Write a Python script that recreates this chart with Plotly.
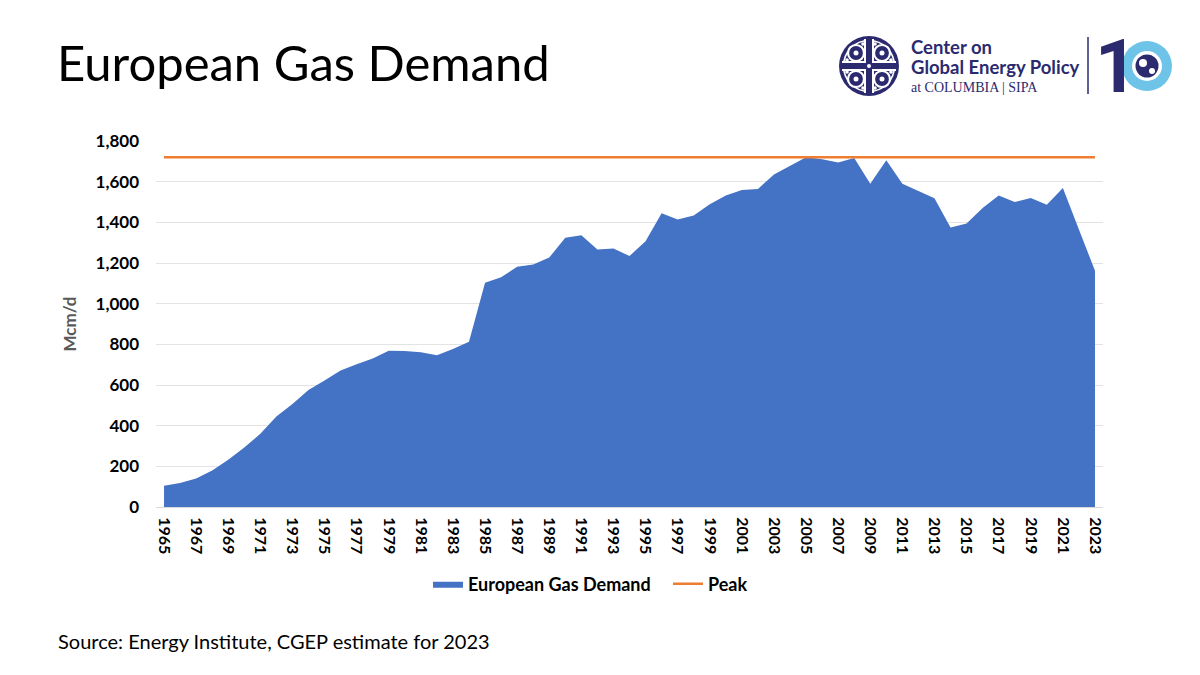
import plotly.graph_objects as go

years = list(range(1965, 2024))
demand = [105, 118, 140, 180, 232, 293, 360, 445, 507, 576,
          622, 671, 702, 730, 769, 767, 761, 746, 777, 813,
          1103, 1130, 1181, 1193, 1227, 1324, 1337, 1266, 1271, 1235,
          1307, 1445, 1414, 1433, 1489, 1532, 1559, 1564, 1635, 1676,
          1720, 1710, 1694, 1716, 1590, 1705, 1590, 1554, 1518, 1375,
          1394, 1471, 1532, 1500, 1520, 1486, 1569, 1365, 1162]
peak_value = 1720
peak = [peak_value for _ in years]
tick_years = list(range(1965, 2024, 2))
y_ticks = [0, 200, 400, 600, 800, 1000, 1200, 1400, 1600, 1800]

W, H = 1200, 675
L, R, T, B = 156, 97, 141, 168
PW = W - L - R
PH = H - T - B


def px(x):
    return (x - L) / PW


def py(y):
    return (H - y - B) / PH


FONT = "Lato"
NAVY = "#2B2A6F"
LBLUE = "#6EC3E8"

fig = go.Figure()
fig.add_trace(go.Scatter(
    x=years, y=demand, name="European Gas Demand", mode="lines",
    fill="tozeroy", fillcolor="#4472C4", line=dict(width=0, color="#4472C4"),
))
fig.add_trace(go.Scatter(
    x=years, y=peak, name="Peak", mode="lines",
    line=dict(width=2.5, color="#ED7D31"),
))

shapes = []


def circle(cx, cy, r, color, line_color=None, line_width=0, fill=True):
    shapes.append(dict(
        type="circle", xref="paper", yref="paper",
        x0=px(cx - r), x1=px(cx + r), y0=py(cy + r), y1=py(cy - r),
        fillcolor=color if fill else "rgba(0,0,0,0)",
        line=dict(width=line_width, color=line_color or color),
        layer="above"))


def rect(x0, y0, x1, y1, color):
    shapes.append(dict(
        type="rect", xref="paper", yref="paper",
        x0=px(x0), x1=px(x1), y0=py(y1), y1=py(y0),
        fillcolor=color, line=dict(width=0), layer="above"))


# CGEP emblem
ecx, ecy = 869, 66
circle(ecx, ecy, 30, NAVY)
circle(ecx, ecy, 25.5, NAVY, line_color="white", line_width=1.6, fill=False)
for dx in (-1, 1):
    for dy in (-1, 1):
        circle(ecx + dx * 13, ecy + dy * 13, 8, NAVY, line_color="white", line_width=2.2)
        circle(ecx + dx * 13, ecy + dy * 13, 2.5, "white")
        circle(ecx + dx * 22, ecy + dy * 6, 1.8, "white")
        circle(ecx + dx * 6, ecy + dy * 22, 1.8, "white")
rect(ecx - 5, ecy - 27, ecx + 5, ecy + 27, "white")
rect(ecx - 27, ecy - 5, ecx + 27, ecy + 5, "white")
rect(ecx - 3, ecy - 28, ecx + 3, ecy + 28, NAVY)
rect(ecx - 28, ecy - 3, ecx + 28, ecy + 3, NAVY)
circle(ecx, ecy, 2, "white")
# separator line
shapes.append(dict(type="line", xref="paper", yref="paper",
                   x0=px(1088), x1=px(1088), y0=py(37), y1=py(94),
                   line=dict(color=NAVY, width=1.5), layer="above"))
# "0" ring with globe
circle(1147, 66, 25, LBLUE)
circle(1147, 66, 15, "white")
circle(1147, 66, 11.5, NAVY)
circle(1143, 63, 4, "white")
circle(1152, 71, 3, "white")

annotations = [
    dict(text="European Gas Demand", x=px(55), y=py(62), xref="paper", yref="paper",
         xanchor="left", yanchor="middle", showarrow=False,
         font=dict(family=FONT, size=49, color="black")),
    dict(text="Source: Energy Institute, CGEP estimate for 2023", x=px(56), y=py(641),
         xref="paper", yref="paper", xanchor="left", yanchor="middle", showarrow=False,
         font=dict(family=FONT, size=20, color="black")),
    dict(text="<b>Center on</b>", x=px(909), y=py(47), xref="paper", yref="paper",
         xanchor="left", yanchor="middle", showarrow=False,
         font=dict(family=FONT, size=18.5, color=NAVY)),
    dict(text="<b>Global Energy Policy</b>", x=px(909), y=py(67), xref="paper", yref="paper",
         xanchor="left", yanchor="middle", showarrow=False,
         font=dict(family=FONT, size=18.5, color=NAVY)),
    dict(text="at COLUMBIA | SIPA", x=px(909), y=py(88), xref="paper", yref="paper",
         xanchor="left", yanchor="middle", showarrow=False,
         font=dict(family="Liberation Serif", size=14, color=NAVY)),
    dict(text="<b>1</b>", x=px(1116), y=py(66), xref="paper", yref="paper",
         xanchor="center", yanchor="middle", showarrow=False,
         font=dict(family="Roboto", size=74, color=NAVY)),
]

fig.update_layout(
    width=W, height=H,
    margin=dict(l=L, r=R, t=T, b=B),
    paper_bgcolor="white", plot_bgcolor="white",
    font=dict(family=FONT, color="black"),
    shapes=shapes, annotations=annotations,
    showlegend=True,
    legend=dict(orientation="h", x=px(428), y=py(584), xanchor="left", yanchor="middle",
                font=dict(family=FONT, size=18, color="black", weight="bold"),
                itemwidth=30, entrywidth=195, entrywidthmode="pixels",
                bgcolor="rgba(0,0,0,0)"),
    xaxis=dict(range=[1964.5, 2023.5], tickmode="array", tickvals=tick_years,
               ticktext=[str(t) for t in tick_years], tickangle=90,
               tickfont=dict(family=FONT, size=16, color="black", weight="bold"),
               showgrid=False, zeroline=False, showline=True, linecolor="#D9D9D9",
               linewidth=1, ticks="", ticklabelstandoff=6),
    yaxis=dict(range=[0, 1800], tickvals=y_ticks, tickformat=",d",
               tickfont=dict(family=FONT, size=17, color="black", weight="bold"),
               showgrid=True, gridcolor="#E3E3E3", gridwidth=1, zeroline=False,
               showline=False, ticks="", ticklabelstandoff=16,
               title=dict(text="Mcm/d", standoff=14,
                          font=dict(family=FONT, size=17, color="#595959", weight="bold"))),
)

fig.write_html("out.html", config={"displayModeBar": False},
               post_script="document.body.style.margin='0';")
